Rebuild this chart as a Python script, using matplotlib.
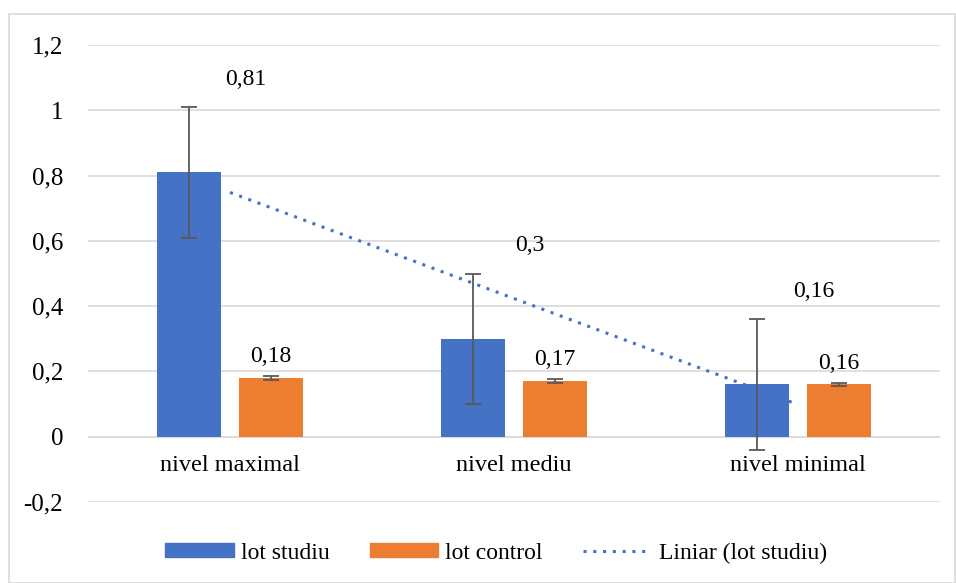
import matplotlib
matplotlib.use("Agg")
import matplotlib.pyplot as plt
import numpy as np
from matplotlib.patches import Rectangle
from matplotlib.lines import Line2D

categories = ["nivel maximal", "nivel mediu", "nivel minimal"]
studiu = [0.81, 0.30, 0.16]
control = [0.18, 0.17, 0.16]
studiu_err = [0.2, 0.2, 0.2]
control_err = [0.006, 0.006, 0.006]
yticks = [-0.2, 0, 0.2, 0.4, 0.6, 0.8, 1.0, 1.2]

plt.rcParams['font.family'] = ['Liberation Serif', 'DejaVu Serif']

blue = "#4472C4"
orange = "#ED7D31"

fig = plt.figure(figsize=(9.56, 5.83), dpi=100)
ax = fig.add_axes([88/956, 1-502/583, (940-88)/956, (502-45)/583])

x = np.arange(len(categories))
w = 0.225
off = 0.144

# trendline (linear fit) behind bars
coef = np.polyfit(x, studiu, 1)
tx = np.array([x[0], x[-1]])
ax.plot(tx, np.polyval(coef, tx), linestyle=(0, (1, 2.2)), color=blue, lw=2.2, zorder=1.5)

ax.bar(x - off, studiu, w, color=blue, zorder=2)
ax.bar(x + off, control, w, color=orange, zorder=2)
ax.errorbar(x - off, studiu, yerr=studiu_err, fmt='none', ecolor="#595959", elinewidth=1.3, capsize=6, capthick=1.3, zorder=3)
ax.errorbar(x + off, control, yerr=control_err, fmt='none', ecolor="#595959", elinewidth=1.3, capsize=6, capthick=1.3, zorder=3)

def fmt(v):
    s = f"{v:.2f}".rstrip('0').rstrip('.')
    return s.replace('.', ',')

for xi, v, e in zip(x - off, studiu, studiu_err):
    ax.annotate(fmt(v), (xi + 0.2, v + e), xytext=(0, 20), textcoords='offset points',
                ha='center', va='center', fontsize=17)
for xi, v, e in zip(x + off, control, control_err):
    ax.annotate(fmt(v), (xi, v + e), xytext=(0, 14), textcoords='offset points',
                ha='center', va='center', fontsize=17)

ax.set_xlim(-0.5, 2.5)
ax.set_ylim(-0.2, 1.2)
ax.set_yticks(yticks)
ax.set_yticklabels([fmt(t) if t != 0 else "0" for t in yticks], fontsize=18)
ax.set_xticks([])
for xi, c in zip(x, categories):
    ax.text(xi, -0.088, c, ha='center', va='center', fontsize=17.5)
ax.grid(axis='y', color="#D9D9D9", lw=1.2, zorder=0)
ax.axhline(0, color="#D9D9D9", lw=1.2, zorder=1)
for s in ax.spines.values():
    s.set_visible(False)
ax.tick_params(axis='y', length=0, pad=18)
ax.set_axisbelow(True)

handles = [Rectangle((0, 0), 1, 1, color=blue), Rectangle((0, 0), 1, 1, color=orange),
           Line2D([0], [0], color=blue, linestyle=(0, (1, 2.2)), lw=2.2)]
fig.legend(handles, ["lot studiu", "lot control", "Liniar (lot studiu)"], loc='center',
           bbox_to_anchor=(496/956, 1-553/583), ncol=3, frameon=False, fontsize=17,
           handlelength=2.9, handleheight=0.55, columnspacing=1.7, handletextpad=0.3)

fig.patches.append(Rectangle((9/956, 0), 1 - 9/956 - 1/956, 1 - 14/583, transform=fig.transFigure,
                             fill=False, edgecolor="#D9D9D9", lw=1.2))

fig.savefig("out.png", dpi=100)
